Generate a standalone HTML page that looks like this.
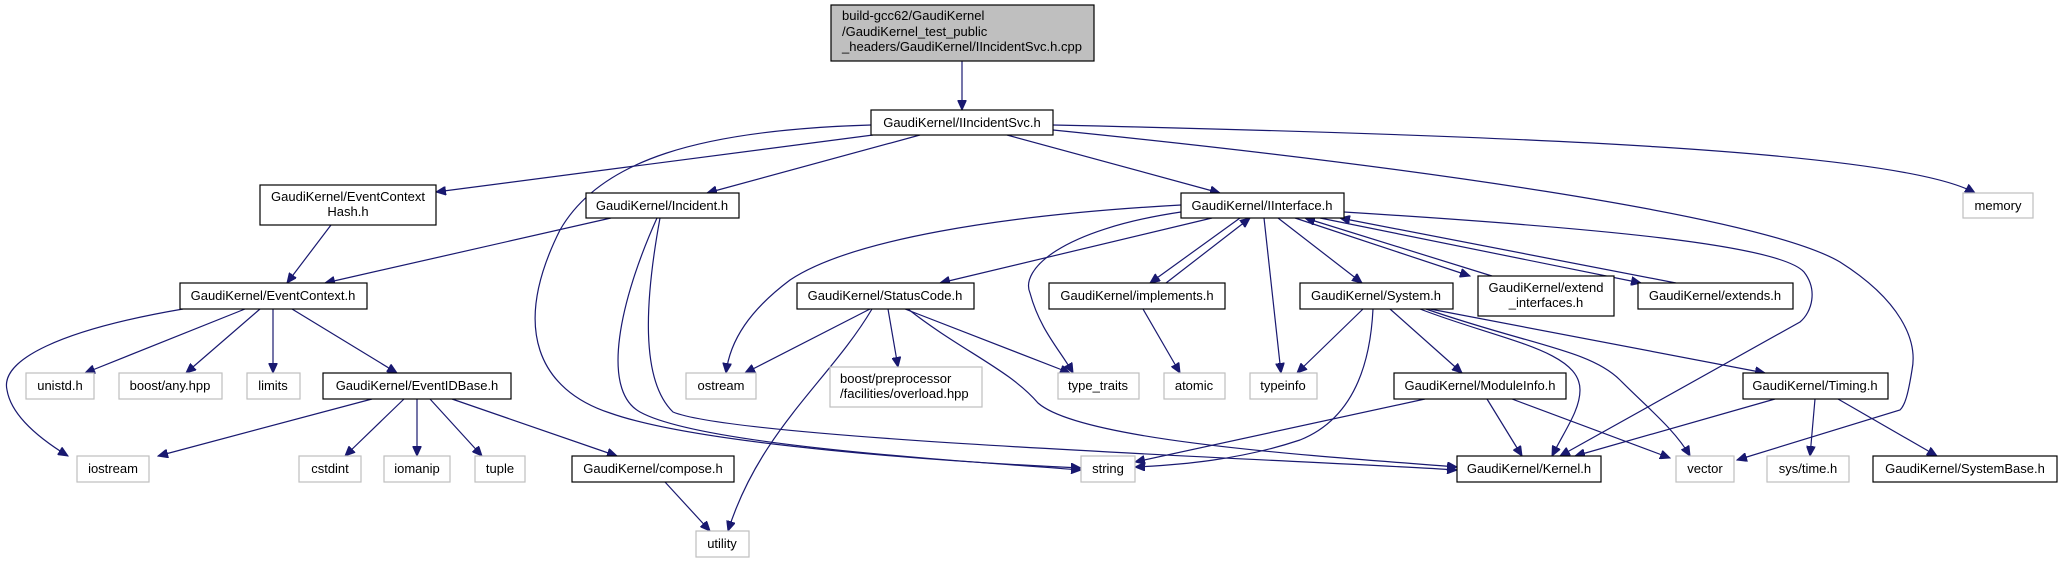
<!DOCTYPE html>
<html><head><meta charset="utf-8"><style>
html,body{margin:0;padding:0;background:#fff;}
svg{display:block;}
text{font-family:"Liberation Sans",sans-serif;font-size:13px;fill:#000;}
.e{fill:none;stroke:#191970;stroke-width:1.2;marker-end:url(#a);}
.n{fill:#fff;stroke:#000;stroke-width:1.2;}
.g{fill:#fff;stroke:#bfbfbf;stroke-width:1.2;}
</style></head><body>
<svg width="2061" height="563" viewBox="0 0 2061 563" xmlns="http://www.w3.org/2000/svg">
<defs><marker id="a" markerUnits="userSpaceOnUse" markerWidth="11" markerHeight="9" refX="10" refY="4.5" orient="auto"><path d="M0,0 L10,4.5 L0,9 Z" fill="#191970" stroke="#191970"/></marker></defs>

<!-- edges -->
<path class="e" d="M962,61 L962,110"/>
<path class="e" d="M873,135 L436,192"/>
<path class="e" d="M920,135 L707,193"/>
<path class="e" d="M1007,135 L1220,193"/>
<path class="e" d="M1053,125 C1500,135 1900,150 1975,193"/>
<path class="e" d="M1053,130 C1400,165 1760,215 1840,262 C1900,300 1918,340 1912,370 C1908,395 1905,405 1900,410 L1737,460"/>
<path class="e" d="M871,125 C700,130 600,160 560,230 C510,330 540,390 610,413 C700,445 950,462 1081,468"/>
<path class="e" d="M611,218 L325,283"/>
<path class="e" d="M657,218 C620,300 600,390 640,412 C700,445 950,460 1081,470"/>
<path class="e" d="M660,218 C645,300 640,380 673,412 C740,440 1300,460 1457,470"/>
<path class="e" d="M331,225 L287,283"/>
<path class="e" d="M245,309 L85,373"/>
<path class="e" d="M260,309 L186,373"/>
<path class="e" d="M273,309 L273,373"/>
<path class="e" d="M292,309 L397,373"/>
<path class="e" d="M183,309 C60,330 0,360 7,390 C12,420 50,445 68,456"/>
<path class="e" d="M372,399 L158,456"/>
<path class="e" d="M404,399 L345,456"/>
<path class="e" d="M417,399 L417,456"/>
<path class="e" d="M430,399 L482,456"/>
<path class="e" d="M452,399 L617,456"/>
<path class="e" d="M665,482 L710,531"/>
<path class="e" d="M870,309 L745,373"/>
<path class="e" d="M888,309 L898,367"/>
<path class="e" d="M872,309 C830,380 760,430 728,531"/>
<path class="e" d="M905,309 L1070,373"/>
<path class="e" d="M908,309 C960,350 1010,370 1038,403 C1080,440 1300,455 1457,467"/>
<path class="e" d="M1181,205 C1000,215 850,240 790,280 C750,310 730,340 726,373"/>
<path class="e" d="M1212,218 L940,283"/>
<path class="e" d="M1181,212 C1060,230 1020,270 1030,293 C1040,330 1060,350 1073,373"/>
<path class="e" d="M1240,218 L1150,283"/>
<path class="e" d="M1166,283 L1250,218"/>
<path class="e" d="M1264,218 L1281,373"/>
<path class="e" d="M1278,218 L1362,283"/>
<path class="e" d="M1295,218 L1470,276"/>
<path class="e" d="M1492,276 L1305,218"/>
<path class="e" d="M1320,218 L1641,283"/>
<path class="e" d="M1676,283 L1340,218"/>
<path class="e" d="M1344,212 C1600,228 1780,245 1804,272 C1818,290 1812,312 1800,322 L1560,456"/>
<path class="e" d="M1143,309 L1180,373"/>
<path class="e" d="M1363,309 L1297,373"/>
<path class="e" d="M1373,309 C1370,370 1350,420 1300,440 C1240,460 1180,465 1135,467"/>
<path class="e" d="M1390,309 L1462,373"/>
<path class="e" d="M1420,309 C1500,340 1580,350 1580,390 C1580,410 1565,430 1552,456"/>
<path class="e" d="M1426,309 C1530,345 1590,350 1620,380 C1650,410 1675,430 1690,456"/>
<path class="e" d="M1430,309 L1765,373"/>
<path class="e" d="M1425,399 L1135,462"/>
<path class="e" d="M1487,399 L1522,456"/>
<path class="e" d="M1512,399 L1670,458"/>
<path class="e" d="M1775,399 L1575,456"/>
<path class="e" d="M1815,399 L1810,456"/>
<path class="e" d="M1838,399 L1937,456"/>

<!-- nodes -->
<rect x="831" y="5" width="263" height="56" fill="#bfbfbf" stroke="#000" stroke-width="1.2"/>
<text x="842" y="20">build-gcc62/GaudiKernel</text>
<text x="842" y="36">/GaudiKernel_test_public</text>
<text x="842" y="51">_headers/GaudiKernel/IIncidentSvc.h.cpp</text>

<rect class="n" x="871" y="110" width="182" height="25"/><text x="962" y="127" text-anchor="middle">GaudiKernel/IIncidentSvc.h</text>
<rect class="n" x="260" y="185" width="176" height="40"/><text x="348" y="201" text-anchor="middle">GaudiKernel/EventContext</text><text x="348" y="216" text-anchor="middle">Hash.h</text>
<rect class="n" x="586" y="193" width="153" height="25"/><text x="662" y="210" text-anchor="middle">GaudiKernel/Incident.h</text>
<rect class="n" x="1181" y="193" width="163" height="25"/><text x="1262" y="210" text-anchor="middle">GaudiKernel/IInterface.h</text>
<rect class="g" x="1963" y="193" width="70" height="25"/><text x="1998" y="210" text-anchor="middle">memory</text>

<rect class="n" x="180" y="283" width="187" height="26"/><text x="273" y="300" text-anchor="middle">GaudiKernel/EventContext.h</text>
<rect class="n" x="797" y="283" width="177" height="26"/><text x="885" y="300" text-anchor="middle">GaudiKernel/StatusCode.h</text>
<rect class="n" x="1049" y="283" width="176" height="26"/><text x="1137" y="300" text-anchor="middle">GaudiKernel/implements.h</text>
<rect class="n" x="1300" y="283" width="153" height="26"/><text x="1376" y="300" text-anchor="middle">GaudiKernel/System.h</text>
<rect class="n" x="1478" y="276" width="136" height="40"/><text x="1546" y="292" text-anchor="middle">GaudiKernel/extend</text><text x="1546" y="307" text-anchor="middle">_interfaces.h</text>
<rect class="n" x="1638" y="283" width="155" height="26"/><text x="1715" y="300" text-anchor="middle">GaudiKernel/extends.h</text>

<rect class="g" x="26" y="373" width="68" height="26"/><text x="60" y="390" text-anchor="middle">unistd.h</text>
<rect class="g" x="119" y="373" width="103" height="26"/><text x="170" y="390" text-anchor="middle">boost/any.hpp</text>
<rect class="g" x="247" y="373" width="53" height="26"/><text x="273" y="390" text-anchor="middle">limits</text>
<rect class="n" x="323" y="373" width="188" height="26"/><text x="417" y="390" text-anchor="middle">GaudiKernel/EventIDBase.h</text>
<rect class="g" x="686" y="373" width="70" height="26"/><text x="721" y="390" text-anchor="middle">ostream</text>
<rect class="g" x="830" y="367" width="152" height="40"/><text x="840" y="383">boost/preprocessor</text><text x="840" y="398">/facilities/overload.hpp</text>
<rect class="g" x="1058" y="373" width="81" height="26"/><text x="1098" y="390" text-anchor="middle">type_traits</text>
<rect class="g" x="1164" y="373" width="61" height="26"/><text x="1194" y="390" text-anchor="middle">atomic</text>
<rect class="g" x="1250" y="373" width="67" height="26"/><text x="1283" y="390" text-anchor="middle">typeinfo</text>
<rect class="n" x="1394" y="373" width="172" height="26"/><text x="1480" y="390" text-anchor="middle">GaudiKernel/ModuleInfo.h</text>
<rect class="n" x="1743" y="373" width="145" height="26"/><text x="1815" y="390" text-anchor="middle">GaudiKernel/Timing.h</text>

<rect class="g" x="77" y="456" width="72" height="26"/><text x="113" y="473" text-anchor="middle">iostream</text>
<rect class="g" x="299" y="456" width="62" height="26"/><text x="330" y="473" text-anchor="middle">cstdint</text>
<rect class="g" x="384" y="456" width="66" height="26"/><text x="417" y="473" text-anchor="middle">iomanip</text>
<rect class="g" x="475" y="456" width="50" height="26"/><text x="500" y="473" text-anchor="middle">tuple</text>
<rect class="n" x="572" y="456" width="162" height="26"/><text x="653" y="473" text-anchor="middle">GaudiKernel/compose.h</text>
<rect class="g" x="1081" y="456" width="54" height="26"/><text x="1108" y="473" text-anchor="middle">string</text>
<rect class="n" x="1457" y="456" width="144" height="26"/><text x="1529" y="473" text-anchor="middle">GaudiKernel/Kernel.h</text>
<rect class="g" x="1676" y="456" width="58" height="26"/><text x="1705" y="473" text-anchor="middle">vector</text>
<rect class="g" x="1767" y="456" width="82" height="26"/><text x="1808" y="473" text-anchor="middle">sys/time.h</text>
<rect class="n" x="1873" y="456" width="184" height="26"/><text x="1965" y="473" text-anchor="middle">GaudiKernel/SystemBase.h</text>
<rect class="g" x="696" y="531" width="53" height="26"/><text x="722" y="548" text-anchor="middle">utility</text>
</svg>
</body></html>
